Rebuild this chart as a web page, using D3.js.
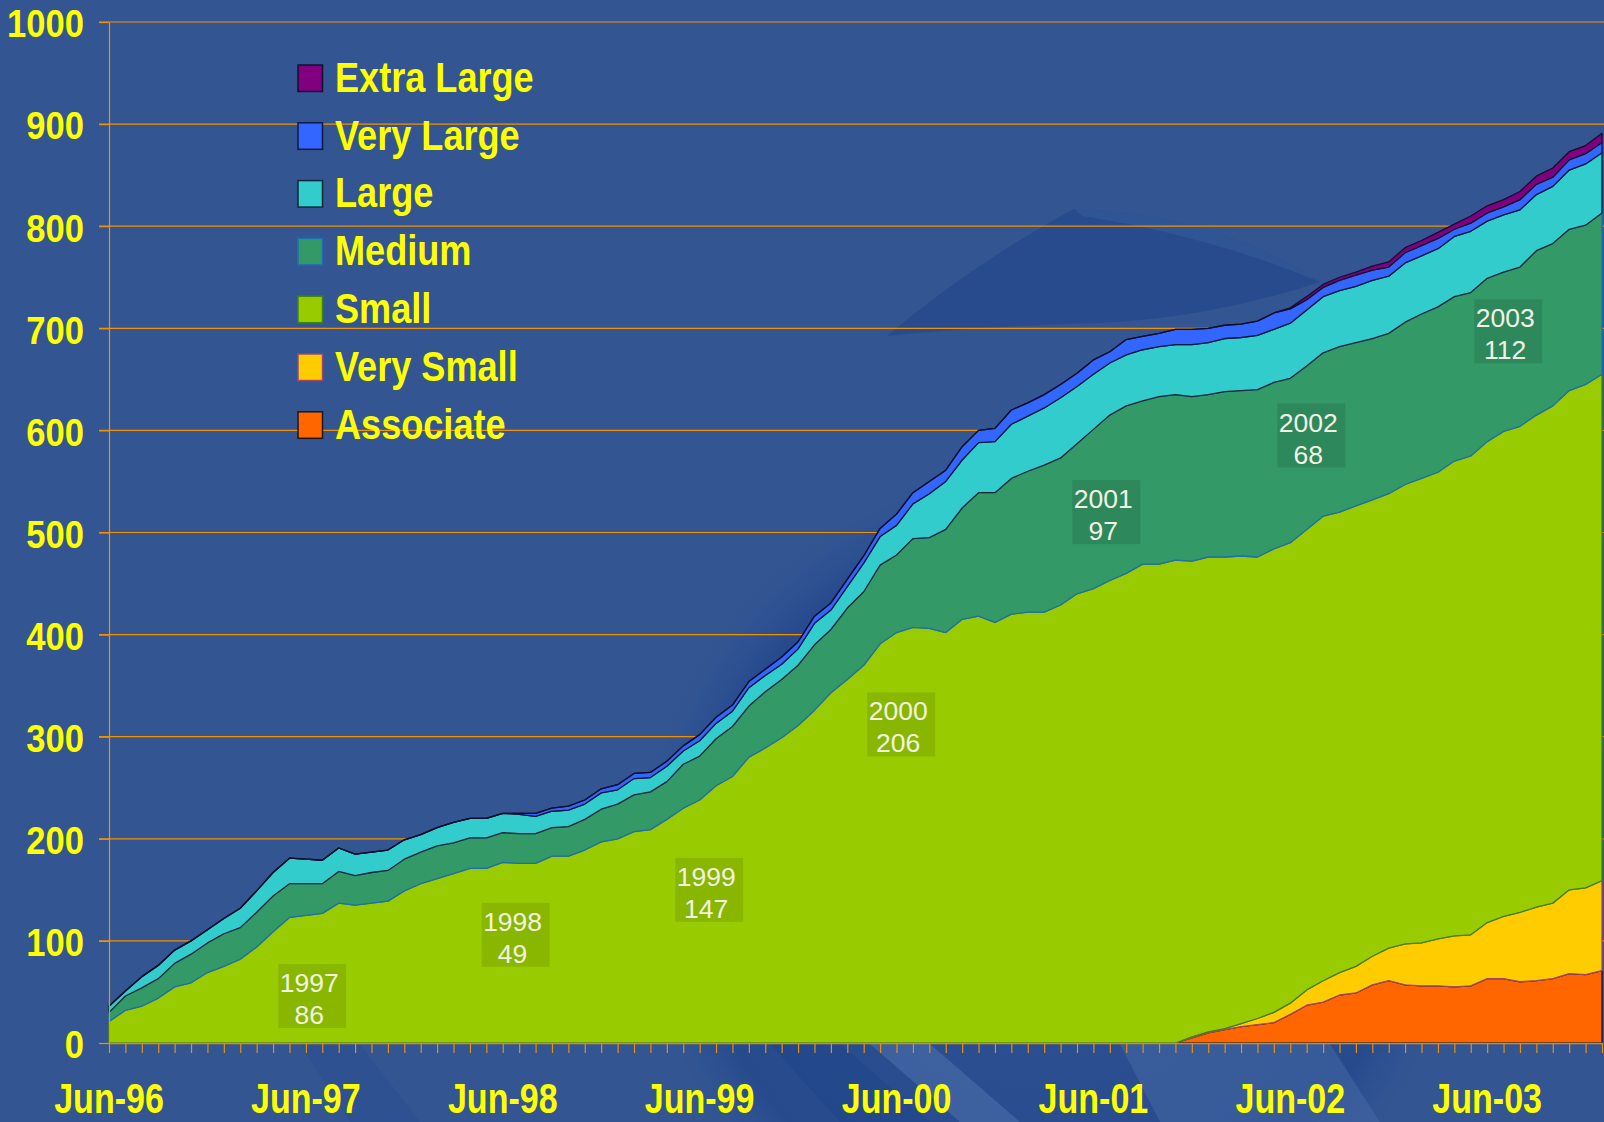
<!DOCTYPE html>
<html>
<head>
<meta charset="utf-8">
<script src="https://cdn.jsdelivr.net/npm/d3@7"></script>
<style>
  html, body { margin: 0; padding: 0; background: #335591; overflow: hidden; }
  svg { display: block; }
  text { font-family: "Liberation Sans", Arial, sans-serif; }
</style>
</head>
<body>
<div id="chart"></div>
<script>
// Monthly membership counts by category, Jun-96 .. Jan-04
const months = d3.timeMonth.range(new Date(1996, 5, 1), new Date(2004, 1, 1));

const associate = [
  0,0,0,0,0,0,0,0,0,0, 0,0,0,0,0,0,0,0,0,0, 0,0,0,0,0,0,0,0,0,0,
  0,0,0,0,0,0,0,0,0,0, 0,0,0,0,0,0,0,0,0,0, 0,0,0,0,0,0,0,0,0,0,
  0,0,0,0,0,0,5,10,13,16, 18,20,28,37,40,47,49,57,61,57, 56,56,55,56,63,63,60,61,63,68,
  67,71
];
const verySmall = [
  0,0,0,0,0,0,0,0,0,0, 0,0,0,0,0,0,0,0,0,0, 0,0,0,0,0,0,0,0,0,0,
  0,0,0,0,0,0,0,0,0,0, 0,0,0,0,0,0,0,0,0,0, 0,0,0,0,0,0,0,0,0,0,
  0,0,0,0,0,0,1,1,1,3, 6,10,11,15,21,22,26,28,32,40, 42,46,50,50,55,61,68,72,74,82,
  85,88
];
const small = [
  21,32,36,44,55,59,69,75,82,94, 109,123,125,127,137,135,137,139,149,156,
  161,166,171,171,177,176,176,183,183,189, 197,200,207,209,219,230,238,252,261,280,
  289,299,311,326,343,356,370,391,402,407, 406,402,415,418,412,420,422,422,429,440,
  445,453,460,469,469,473,466,465,462,458, 452,454,451,451,455,451,451,447,445,450,
  455,457,465,469,471,475,476,482,487,489, 493,496
];
const medium = [
  9,14,18,19,23,28,29,32,31,34, 35,33,31,29,31,29,30,30,31,31,
  32,30,30,30,29,29,29,28,29,30, 32,34,36,37,37,43,43,46,49,50,
  55,57,59,64,62,70,72,77,76,87, 89,101,109,121,127,133,138,144,144,147,
  156,162,164,160,164,162,161,159,162,162, 164,163,161,160,160,162,160,158,157,159,
  161,162,161,160,160,156,156,161,159,158, 156,158
];
const large = [
  6,5,11,13,13,13,13,15,19,21, 23,25,24,23,23,21,20,20,19,17,
  18,20,19,19,19,19,17,16,16,15, 16,14,16,14,15,13,15,15,15,18,
  16,15,16,21,19,21,28,28,29,34, 43,47,47,49,50,53,54,56,59,56,
  54,51,50,50,49,49,51,51,52,52, 53,52,54,55,55,55,55,57,56,58,
  57,57,59,60,56,56,56,55,56,58, 60,59
];
const veryLarge = [
  0,0,0,0,0,0,0,0,0,0, 0,0,0,0,0,0,0,0,0,0,
  0,0,0,0,0,1,3,3,4,4, 4,5,5,5,5,5,6,6,6,6,
  6,7,7,7,7,7,7,8,11,11, 12,11,13,12,13,14,13,13,13,13,
  14,11,15,13,13,15,15,14,13,13, 14,16,14,10,9,10,11,10,9,10,
  10,10,7,8,8,8,10,10,9,10, 10,10
];
const extraLarge = [
  0,0,0,0,0,0,0,0,0,0, 0,0,0,0,0,0,0,0,0,0, 0,0,0,0,0,0,0,0,0,0,
  0,0,0,0,0,0,0,0,0,0, 0,0,0,0,0,0,0,0,0,0, 0,0,0,0,0,0,0,0,0,0,
  0,0,0,0,0,0,0,0,0,0, 0,0,1,3,3,3,3,4,5,5, 5,6,5,7,7,7,8,8,9,8,
  8,9
];

// Legend order (top to bottom) and the matching series
const seriesNames = ['Extra Large', 'Very Large', 'Large', 'Medium', 'Small', 'Very Small', 'Associate'];
const seriesValues = [extraLarge, veryLarge, large, medium, small, verySmall, associate];
const fillColors = ['#800080', '#3366ff', '#33cccc', '#339966', '#99cc00', '#ffcc00', '#ff6600'];
const edgeColors = ['#120f2c', '#0e1a45', '#0f2836', '#1f6db5', '#3c8614', '#a4466c', '#241410'];

const xTickLabels = ['Jun-96', 'Jun-97', 'Jun-98', 'Jun-99', 'Jun-00', 'Jun-01', 'Jun-02', 'Jun-03'];
const yTicks = [0, 100, 200, 300, 400, 500, 600, 700, 800, 900, 1000];

// Yearly growth call-outs, anchored in data units (month index, members)
const yearNames = ['1997', '1998', '1999', '2000', '2001', '2002', '2003'];
const yearGrowth = [86, 49, 147, 206, 97, 68, 112];
const yearAtMonth = [12.2, 24.6, 36.4, 48.1, 60.6, 73.1, 85.1];
const yearAtValue = [46, 106, 150, 312, 520, 595, 697];

// Chart area
const svgWidth = 1604;
const svgHeight = 1122;
const plot = { left: 109, right: 1602, top: 22, bottom: 1043 };

const svg = d3.select('#chart')
  .append('svg')
  .attr('width', svgWidth)
  .attr('height', svgHeight);

// Background with a faint swirl
const defs = svg.append('defs');
const glow = defs.append('radialGradient').attr('id', 'ring')
  .attr('cx', 0.5).attr('cy', 0.5).attr('r', 0.5);
glow.append('stop').attr('offset', '0%').attr('stop-color', '#2a4f94').attr('stop-opacity', 0.6);
glow.append('stop').attr('offset', '85%').attr('stop-color', '#22478b').attr('stop-opacity', 0.75);
glow.append('stop').attr('offset', '94%').attr('stop-color', '#2c5194').attr('stop-opacity', 0.45);
glow.append('stop').attr('offset', '100%').attr('stop-color', '#335591').attr('stop-opacity', 0);

svg.append('rect').attr('width', svgWidth).attr('height', svgHeight).attr('fill', '#335591');

svg.append('circle')
  .attr('cx', 1050).attr('cy', 880).attr('r', 420)
  .attr('fill', 'url(#ring)');

svg.append('path')
  .attr('d', 'M887,336 Q975,262 1074,209 Q1215,214 1320,282 Q1210,318 1099,323 Q985,326 887,336 Z')
  .attr('fill', '#22478a').attr('opacity', 0.7);
svg.append('path')
  .attr('d', 'M1074,209 Q1215,214 1320,282 Q1210,236 1082,216 Z')
  .attr('fill', '#3e63a2').attr('opacity', 0.4);

const streaks = [
  'M300,1044 L360,1044 L420,1122 L350,1122 Z',
  'M770,1044 L840,1044 L930,1122 L840,1122 Z',
  'M870,1044 L930,1044 L1020,1122 L960,1122 Z',
  'M1120,1044 L1330,1044 L1380,1122 L1160,1122 Z'
];
const streakFill = ['#2a4f91', '#1e438a', '#5275ae', '#4769a6'];
svg.append('g').selectAll('path')
  .data(streaks)
  .enter()
  .append('path')
  .attr('d', d => d)
  .attr('fill', (d, i) => streakFill[i])
  .attr('opacity', 0.5);

// Scales
const xScale = d3.scaleLinear()
  .domain([0, months.length - 1])
  .range([plot.left, plot.right]);

const yScale = d3.scaleLinear()
  .domain([0, 1000])
  .range([plot.bottom, plot.top]);

// Gridlines
svg.append('g')
  .selectAll('line')
  .data(yTicks.filter(v => v > 0))
  .enter()
  .append('line')
  .attr('x1', plot.left - 10)
  .attr('x2', svgWidth)
  .attr('y1', d => yScale(d))
  .attr('y2', d => yScale(d))
  .attr('stroke', '#f39200')
  .attr('stroke-width', 1.2);

// Stacked areas
const table = months.map((m, i) => {
  const row = { month: m };
  seriesNames.forEach((name, k) => { row[name] = seriesValues[k][i]; });
  return row;
});

const stackOrder = seriesNames.slice().reverse();  // Associate at the bottom
const stacked = d3.stack().keys(stackOrder)(table);

const area = d3.area()
  .x((d, i) => xScale(i))
  .y0(d => yScale(d[0]))
  .y1(d => yScale(d[1]));

svg.append('g')
  .selectAll('path')
  .data(stacked)
  .enter()
  .append('path')
  .attr('d', area)
  .attr('fill', d => fillColors[seriesNames.indexOf(d.key)])
  .attr('stroke', d => edgeColors[seriesNames.indexOf(d.key)])
  .attr('stroke-width', 1.3)
  .attr('stroke-linejoin', 'round');

// Year call-outs
const callouts = svg.append('g')
  .selectAll('g')
  .data(yearNames)
  .enter()
  .append('g')
  .attr('transform', (d, i) => `translate(${xScale(yearAtMonth[i])},${yScale(yearAtValue[i])})`);

callouts.append('rect')
  .attr('x', -31).attr('y', -32)
  .attr('width', 68).attr('height', 64)
  .attr('fill', '#000').attr('fill-opacity', 0.1);

callouts.append('text')
  .attr('y', -4)
  .attr('text-anchor', 'middle')
  .attr('font-size', 26.5)
  .attr('fill', '#f2f2e4')
  .text(d => d);

callouts.append('text')
  .attr('y', 28)
  .attr('text-anchor', 'middle')
  .attr('font-size', 26.5)
  .attr('fill', '#f2f2e4')
  .text((d, i) => yearGrowth[i]);

// Axes
const leftAxis = d3.axisLeft(yScale).tickValues(yTicks).tickSize(10).tickSizeOuter(0)
  .tickFormat(d3.format('d'));
const bottomAxis = d3.axisBottom(xScale).tickValues(d3.range(months.length))
  .tickSize(10).tickSizeOuter(0).tickFormat('');

const yAxisG = svg.append('g')
  .attr('transform', `translate(${plot.left},0)`)
  .call(leftAxis);
yAxisG.select('.domain').attr('stroke', '#f39200').attr('stroke-width', 1.2);
yAxisG.selectAll('line').attr('stroke', '#f39200').attr('stroke-width', 1.2);
yAxisG.selectAll('text')
  .attr('x', -25 / 0.91)
  .attr('dy', '0.39em')
  .attr('transform', 'scale(0.91,1)')
  .attr('fill', '#ffff00')
  .attr('font-size', 38)
  .attr('font-weight', 'bold')
  .attr('font-family', '"Liberation Sans", Arial, sans-serif');

const xAxisG = svg.append('g')
  .attr('transform', `translate(0,${plot.bottom})`)
  .call(bottomAxis);
xAxisG.select('.domain').attr('stroke', '#d98a1c').attr('stroke-width', 1.4);
xAxisG.selectAll('line').attr('stroke', '#e0901c').attr('stroke-width', 1.2);

const fmt = d3.timeFormat('%b-%y');
svg.append('g')
  .selectAll('text')
  .data(xTickLabels)
  .enter()
  .append('text')
  .attr('transform', d => {
    const idx = months.findIndex(m => fmt(m) === d);
    return `translate(${xScale(idx)},1113) scale(0.81,1)`;
  })
  .attr('text-anchor', 'middle')
  .attr('font-size', 42)
  .attr('font-weight', 'bold')
  .attr('fill', '#ffff00')
  .text(d => d);

// Legend
const legend = svg.append('g')
  .selectAll('g')
  .data(seriesNames)
  .enter()
  .append('g')
  .attr('transform', (d, i) => `translate(298,${65 + i * 57.8})`);

legend.append('rect')
  .attr('width', 24.5).attr('height', 26.5)
  .attr('fill', (d, i) => fillColors[i])
  .attr('stroke', (d, i) => edgeColors[i])
  .attr('stroke-width', 1.5);

legend.append('text')
  .attr('transform', 'translate(37,26.7) scale(0.86,1)')
  .attr('font-size', 42)
  .attr('font-weight', 'bold')
  .attr('fill', '#ffff00')
  .text(d => d);
</script>
</body>
</html>
